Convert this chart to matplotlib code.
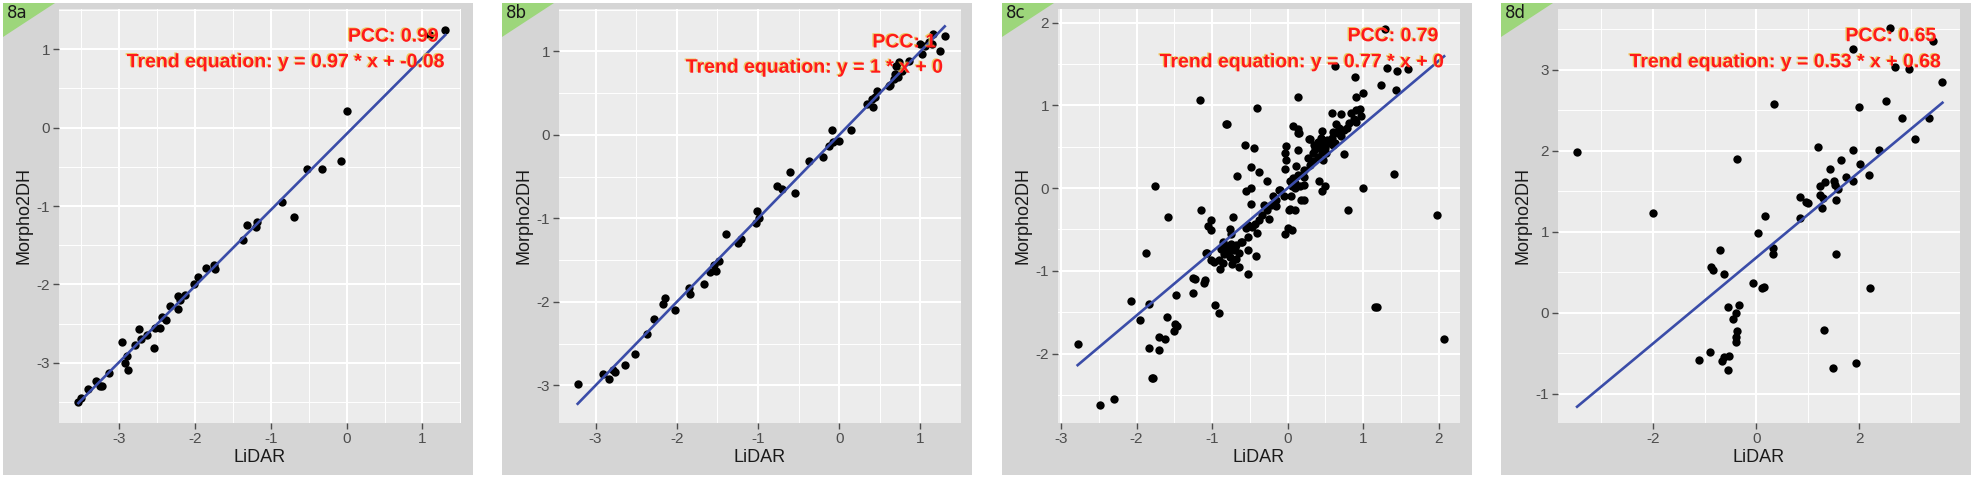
import matplotlib
matplotlib.use("Agg")
import matplotlib.pyplot as plt
from matplotlib.patches import Rectangle, Polygon
from matplotlib.ticker import MultipleLocator, AutoMinorLocator
import matplotlib.patheffects as pe

plt.rcParams['font.family'] = ['Liberation Sans', 'DejaVu Sans']
plt.rcParams['axes.unicode_minus'] = False

# panel 8a
xa = [-3.54, -3.50, -3.41, -3.31, -3.25, -3.23, -3.13, -2.96, -2.93, -2.90, -2.88, -2.79,
      -2.74, -2.71, -2.64, -2.54, -2.53, -2.46, -2.43, -2.38, -2.33, -2.23, -2.23, -2.20,
      -2.13, -2.01, -1.96, -1.85, -1.75, -1.74, -1.37, -1.32, -1.20, -1.18, -0.85, -0.70,
      -0.53, -0.32, -0.08, 0.00, 1.10, 1.30]
ya = [-3.50, -3.45, -3.33, -3.23, -3.30, -3.30, -3.13, -2.73, -3.00, -2.91, -3.09, -2.77,
      -2.57, -2.70, -2.65, -2.81, -2.55, -2.55, -2.41, -2.46, -2.28, -2.15, -2.32, -2.20,
      -2.14, -2.00, -1.91, -1.79, -1.75, -1.80, -1.43, -1.24, -1.27, -1.21, -0.95, -1.14,
      -0.53, -0.53, -0.43, 0.21, 1.18, 1.25]

# panel 8b
xb = [-3.22, -2.91, -2.84, -2.78, -2.76, -2.64, -2.52, -2.37, -2.28, -2.17, -2.15, -2.02,
      -1.85, -1.84, -1.67, -1.59, -1.54, -1.52, -1.48, -1.39, -1.24, -1.21, -1.02, -1.01,
      -0.99, -0.77, -0.70, -0.60, -0.54, -0.37, -0.20, -0.13, -0.09, -0.07, 0.00, 0.14,
      0.34, 0.40, 0.42, 0.44, 0.46, 0.61, 0.63, 0.67, 0.69, 0.70, 0.72, 0.74, 0.77, 0.86,
      1.02, 1.06, 1.11, 1.14, 1.16, 1.24, 1.30, 1.00]
yb = [-2.98, -2.86, -2.92, -2.82, -2.84, -2.76, -2.62, -2.38, -2.20, -2.02, -1.95, -2.10,
      -1.83, -1.90, -1.79, -1.64, -1.56, -1.63, -1.51, -1.19, -1.30, -1.25, -1.06, -0.91,
      -1.00, -0.61, -0.65, -0.45, -0.69, -0.31, -0.27, -0.13, 0.06, -0.08, -0.07, 0.06,
      0.37, 0.43, 0.33, 0.46, 0.53, 0.58, 0.60, 0.67, 0.73, 0.83, 0.69, 0.87, 0.77, 0.89,
      0.97, 1.06, 1.11, 1.09, 1.21, 1.00, 1.19, 1.09]

# panel 8c
xc = [-2.78, -2.49, -2.30, -2.07, -1.95, -1.88, -1.84, -1.84, -1.80, -1.78, -1.76, -1.71,
      -1.71, -1.63, -1.60, -1.59, -1.50, -1.49, -1.46, -1.48, -1.25, -1.25, -1.23, -1.16,
      -1.15, -1.11, -1.10, -1.07, -1.05, -1.01, -1.01, -0.96, -0.91, -0.82, -0.80, -0.67,
      -0.57, -0.45, -0.40, -0.49, -0.38, -0.27, -0.52, 0.13, 0.63, 1.29, 0.89, 1.23,
      1.32, 1.44, 1.59, 0.99, 0.91, 1.43, 1.40, 0.99, 0.80, 1.98, 2.07, 1.18,
      1.16,
      -0.86, -0.81, -0.88, -0.84, -0.91, -0.86, -0.77, -0.71, -0.65, -0.68, -0.74, -0.79,
      -0.75, -0.68, -0.64, -0.89, -0.97, -1.08, -1.01, -0.53, -0.42, -0.77, -0.75, -0.73,
      -0.62, -0.52, -0.41, -0.55, -0.47, -0.52, -0.43, -0.38, -0.34, -0.25, -0.28, -0.22,
      -0.20, -0.15, -0.11, -0.49, -0.55, -0.49, -0.31, -0.70, -0.61,
      0.02, 0.10, 0.00, 0.06, -0.03, 0.17, 0.21, 0.03, -0.16, -0.10, -0.05, 0.04,
      0.09, 0.03, 0.10, 0.06, 0.16, 0.21, 0.22, 0.42, 0.49, 0.45, 0.07, 0.14,
      0.21, 0.11, -0.03, 0.29, -0.02, 0.13, -0.03, -0.02, 0.27, 0.34, 0.47, 0.40,
      0.33, 0.45, 0.51, 0.35, 0.49, 0.42, 0.55, 0.47, 0.40, 0.29, 0.14, 0.07,
      0.45, 0.71, 0.66, 0.60, 0.68, 0.64, 0.74, 0.74, 0.78, 0.91, 0.81, 0.88,
      0.97, 0.95, 0.91, 0.84, 0.70, 0.58, 0.15, 0.14, 0.28, 0.62, 0.58, 0.52,
      0.36, 0.44, 0.60]
yc = [-1.89, -2.62, -2.55, -1.37, -1.60, -0.79, -1.40, -1.93, -2.30, -2.30, 0.02, -1.80,
      -1.96, -1.82, -1.56, -0.35, -1.73, -1.64, -1.67, -1.29, -1.27, -1.09, -1.10, 1.06,
      -0.27, -1.15, -1.11, -0.79, -0.46, -0.38, -0.51, -1.41, -1.51, 0.78, 0.77, 0.15,
      0.52, 0.48, 0.97, 0.25, 0.19, 0.08, -1.04, 1.10, 1.47, 1.92, 1.34, 1.25,
      1.45, 1.42, 1.44, 1.15, 1.10, 1.18, 0.17, 0.00, -0.27, -0.33, -1.82, -1.44,
      -1.44,
      -0.65, -0.70, -0.74, -0.80, -0.87, -0.90, -0.83, -0.75, -0.78, -0.86, -0.92, -0.76,
      -0.67, -0.69, -0.95, -0.98, -0.89, -0.79, -0.87, -0.75, -0.82, -0.50, -0.55, -0.35,
      -0.65, -0.59, -0.54, -0.48, -0.47, -0.45, -0.44, -0.39, -0.33, -0.37, -0.27, -0.21,
      -0.10, -0.15, -0.02, -0.19, -0.04, 0.00, -0.21, -0.71, -0.65,
      -0.26, -0.27, -0.48, -0.51, -0.55, -0.15, -0.14, -0.25, -0.22, -0.02, -0.10, -0.09,
      0.00, 0.08, 0.06, 0.02, 0.02, 0.13, 0.04, 0.08, 0.03, -0.04, 0.12, 0.16,
      0.22, 0.27, 0.23, 0.28, 0.34, 0.46, 0.42, 0.51, 0.36, 0.33, 0.34, 0.38,
      0.43, 0.44, 0.42, 0.52, 0.48, 0.50, 0.54, 0.54, 0.56, 0.59, 0.66, 0.75,
      0.69, 0.63, 0.66, 0.68, 0.73, 0.78, 0.41, 0.70, 0.73, 0.80, 0.79, 0.83,
      0.87, 0.96, 0.95, 0.91, 0.89, 0.91, 0.66, 0.72, 0.59, 0.55, 0.60, 0.58,
      0.47, 0.60, 0.52]

# panel 8d
xd = [-3.47, -2.00, -0.37, 0.35, 2.60, 1.88, 2.69, 2.96, 3.43, 3.61, 2.51, 2.00,
      2.83, 3.35, 3.07, 2.38, 1.88, 1.19, 1.64, 2.02, 1.43, 1.74, 2.19, 1.88,
      1.51, 1.33, 1.24, 1.52, 1.59, 1.24, 1.30, 0.85, 0.97, 1.01, 1.54, 1.27,
      0.85, 0.17, 0.03, 0.33, 0.32, 1.54, -0.71, -0.88, -0.84, -0.63, -0.07, 0.11,
      0.15, 2.20, -0.55, -0.33, -0.39, -0.45, -0.37, -0.39, -0.39, 1.31, -1.10, -0.89,
      -0.66, -0.62, -0.53, -0.55, 1.48, 1.93]
yd = [1.99, 1.23, 1.90, 2.58, 3.51, 3.26, 3.04, 3.01, 3.36, 2.85, 2.61, 2.54,
      2.40, 2.40, 2.15, 2.01, 2.01, 2.05, 1.89, 1.84, 1.78, 1.68, 1.70, 1.63,
      1.63, 1.61, 1.57, 1.58, 1.53, 1.46, 1.42, 1.43, 1.37, 1.36, 1.39, 1.29,
      1.17, 1.19, 0.99, 0.80, 0.73, 0.72, 0.77, 0.57, 0.53, 0.48, 0.37, 0.31,
      0.32, 0.31, 0.07, 0.10, 0.00, -0.08, -0.22, -0.30, -0.36, -0.21, -0.58, -0.48,
      -0.60, -0.54, -0.53, -0.71, -0.68, -0.62]

panel_names = ['8a', '8b', '8c', '8d']
pcc = [0.99, 1, 0.79, 0.65]
slopes = [0.97, 1, 0.77, 0.53]
intercepts = [-0.08, 0, 0, 0.68]

W, H = 1974, 479
fig = plt.figure(figsize=(W / 100, H / 100), dpi=100)

frame_x = [3, 502, 1002, 1501]
axes_x = [59, 559, 1058, 1558]
xlims = [(-3.795, 1.508), (-3.45, 1.50), (-3.04, 2.28), (-3.84, 3.95)]
ylims = [(-3.768, 1.513), (-3.45, 1.508), (-2.84, 2.165), (-1.36, 3.75)]
xsteps = [1, 1, 1, 2]
# text anchors (axes fraction): pcc right, eq right, pcc y, eq y
txt_pos = [(0.944, 0.960, 0.932, 0.870), (0.938, 0.956, 0.918, 0.857),
           (0.946, 0.961, 0.933, 0.870), (0.941, 0.954, 0.933, 0.870)]

data = [(xa, ya), (xb, yb), (xc, yc), (xd, yd)]

for i in range(4):
    fx = frame_x[i]
    # grey outer frame
    fig.patches.append(Rectangle((fx / W, 4 / H), 470 / W, 472 / H, transform=fig.transFigure,
                                 facecolor='#d5d5d5', edgecolor='none', zorder=-3))
    # green corner tag
    fig.patches.append(Polygon([(fx / W, 1 - 3 / H), ((fx + 52) / W, 1 - 3 / H), (fx / W, 1 - 37 / H)],
                               closed=True, transform=fig.transFigure,
                               facecolor='#9dd67b', edgecolor='none', zorder=-2))
    fig.text((fx + 4) / W, 1 - 4 / H, panel_names[i], ha='left', va='top', fontsize=12,
             color='#1a1a1a', family='DejaVu Sans')

    ax = fig.add_axes([axes_x[i] / W, 56 / H, 402 / W, 414 / H])
    ax.set_facecolor('#ececec')
    for s in ax.spines.values():
        s.set_visible(False)

    x, y = data[i]
    ax.scatter(x, y, s=36, color='black', linewidths=0, zorder=3)
    x0, x1 = min(x), max(x)
    ax.plot([x0, x1], [slopes[i] * x0 + intercepts[i], slopes[i] * x1 + intercepts[i]],
            color='#3a4ca8', lw=1.9, zorder=4)

    ax.set_xlim(*xlims[i])
    ax.set_ylim(*ylims[i])
    ax.xaxis.set_major_locator(MultipleLocator(xsteps[i]))
    ax.yaxis.set_major_locator(MultipleLocator(1))
    ax.xaxis.set_minor_locator(AutoMinorLocator(2))
    ax.yaxis.set_minor_locator(AutoMinorLocator(2))
    ax.grid(which='major', color='white', lw=1.5, zorder=1)
    ax.grid(which='minor', color='white', lw=0.7, zorder=1)
    ax.set_axisbelow(True)
    ax.tick_params(which='major', direction='out', length=4, width=1, color='#4d4d4d',
                   labelcolor='#4d4d4d', labelsize=11, pad=2.5)
    ax.tick_params(which='minor', length=0)

    ax.set_xlabel('LiDAR', fontsize=13, color='#1a1a1a', labelpad=2)
    ax.set_ylabel('Morpho2DH', fontsize=13, color='#1a1a1a', labelpad=3)

    pr, er, py, ey = txt_pos[i]
    shadow = [pe.SimplePatchShadow(offset=(-1, 0.6), shadow_rgbFace='#f0c040', alpha=0.8), pe.Normal()]
    ax.text(pr, py, f'PCC: {pcc[i]:g}', transform=ax.transAxes, ha='right', va='center',
            fontsize=14, fontweight='bold', color='#ff1a1a', zorder=5, path_effects=shadow)
    ax.text(er, ey, f'Trend equation: y = {slopes[i]:g} * x + {intercepts[i]:g}',
            transform=ax.transAxes, ha='right', va='center', fontsize=14, fontweight='bold',
            color='#ff1a1a', zorder=5, path_effects=shadow)

fig.savefig('out.png', dpi=100)
